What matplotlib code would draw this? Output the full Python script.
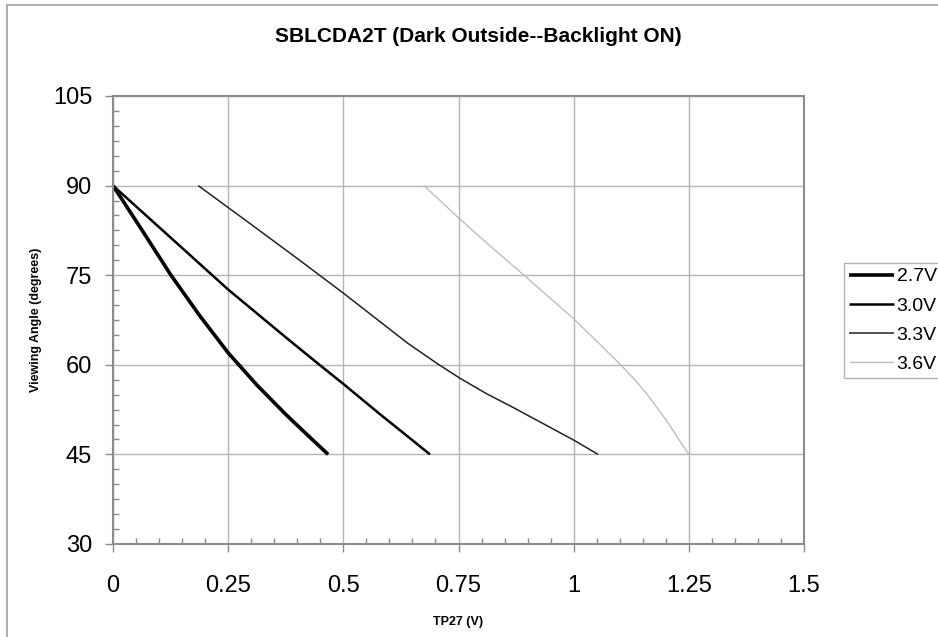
import matplotlib
matplotlib.use("Agg")
import matplotlib.pyplot as plt
from matplotlib.ticker import MultipleLocator
from matplotlib.lines import Line2D

plt.rcParams['font.family'] = ['Liberation Sans', 'DejaVu Sans']

# Data
x_27 = [0.0, 0.0625, 0.125, 0.1875, 0.25, 0.3125, 0.375, 0.42, 0.467]
y_27 = [90.0, 82.6, 75.1, 68.3, 62.0, 56.6, 51.7, 48.4, 45.0]

x_30 = [0.0, 0.125, 0.25, 0.375, 0.445, 0.5, 0.58, 0.635, 0.688]
y_30 = [90.0, 81.3, 72.6, 64.6, 60.2, 56.8, 51.7, 48.3, 45.0]

x_33 = [0.185, 0.30, 0.40, 0.50, 0.58, 0.64, 0.704, 0.752, 0.81, 0.87, 0.935, 1.0, 1.053]
y_33 = [90.0, 83.5, 77.8, 72.0, 67.2, 63.6, 60.2, 57.8, 55.2, 52.8, 50.1, 47.4, 45.0]

x_36 = [0.675, 0.75, 0.82, 0.892, 1.0, 1.06, 1.102, 1.135, 1.16, 1.185, 1.204, 1.23, 1.25]
y_36 = [90.0, 84.6, 79.8, 75.0, 67.7, 63.2, 60.0, 57.3, 55.0, 52.4, 50.4, 47.3, 45.0]

series_labels = ["2.7V", "3.0V", "3.3V", "3.6V"]
x_ticks = [0, 0.25, 0.5, 0.75, 1, 1.25, 1.5]
x_tick_labels = ["0", "0.25", "0.5", "0.75", "1", "1.25", "1.5"]
y_ticks = [30, 45, 60, 75, 90, 105]

W, H = 938, 637
fig = plt.figure(figsize=(W / 100, H / 100), dpi=100)
fig.patch.set_facecolor('white')

# outer chart-area border (top and left visible)
fig.add_artist(Line2D([7 / W, 1.0], [1 - 5 / H, 1 - 5 / H], color='#a0a0a0', lw=1.2, transform=fig.transFigure))
fig.add_artist(Line2D([7 / W, 7 / W], [0.0, 1 - 5 / H], color='#a0a0a0', lw=1.2, transform=fig.transFigure))

left, right, bottom, top = 113 / W, 804 / W, 1 - 544 / H, 1 - 96 / H
ax = fig.add_axes([left, bottom, right - left, top - bottom])

styles = [
    dict(color='black', lw=2.6),
    dict(color='black', lw=1.8),
    dict(color='#222222', lw=1.1),
    dict(color='#b8b8b8', lw=0.9),
]
data = [(x_27, y_27), (x_30, y_30), (x_33, y_33), (x_36, y_36)]
handles = []
for (xs, ys), st, lab in zip(data, styles, series_labels):
    h, = ax.plot(xs, ys, label=lab, solid_capstyle='butt', solid_joinstyle='round', **st)
    handles.append(h)

ax.set_xlim(0, 1.5)
ax.set_ylim(30, 105)
ax.set_xticks(x_ticks)
ax.set_xticklabels(x_tick_labels)
ax.set_yticks(y_ticks)
ax.xaxis.set_minor_locator(MultipleLocator(0.05))
ax.yaxis.set_minor_locator(MultipleLocator(2.5))

ax.grid(True, which='major', color='#b4b4b4', lw=1.0)
ax.set_axisbelow(True)

for sp in ax.spines.values():
    sp.set_color('#8c8c8c')
    sp.set_linewidth(1.5)

ax.tick_params(axis='both', which='major', direction='out', length=6, width=1.0, color='#8c8c8c',
               labelsize=17)
ax.tick_params(axis='x', which='major', pad=16)
ax.tick_params(axis='y', which='major', pad=9)
ax.tick_params(axis='both', which='minor', direction='in', length=4.5, width=1.0, color='#8c8c8c')

ax.set_xlabel("TP27 (V)", fontsize=9, fontweight='bold', labelpad=14)
ax.set_ylabel("Viewing Angle (degrees)", fontsize=9, fontweight='bold', labelpad=8)

fig.text(478 / W, 1 - 37 / H, "SBLCDA2T (Dark Outside--Backlight ON)", ha='center', va='center',
         fontsize=15, fontweight='bold')

leg = ax.legend(handles=handles, loc='upper left', bbox_to_anchor=(844 / W, 1 - 263 / H),
                bbox_transform=fig.transFigure, fontsize=14, frameon=True, fancybox=False,
                edgecolor='#a0a0a0', handlelength=2.3, handletextpad=0.15, labelspacing=0.6,
                borderpad=0.25, borderaxespad=0)
leg.get_frame().set_linewidth(1.0)
leg.set_clip_on(False)

fig.savefig("out.png", dpi=100, facecolor='white')
